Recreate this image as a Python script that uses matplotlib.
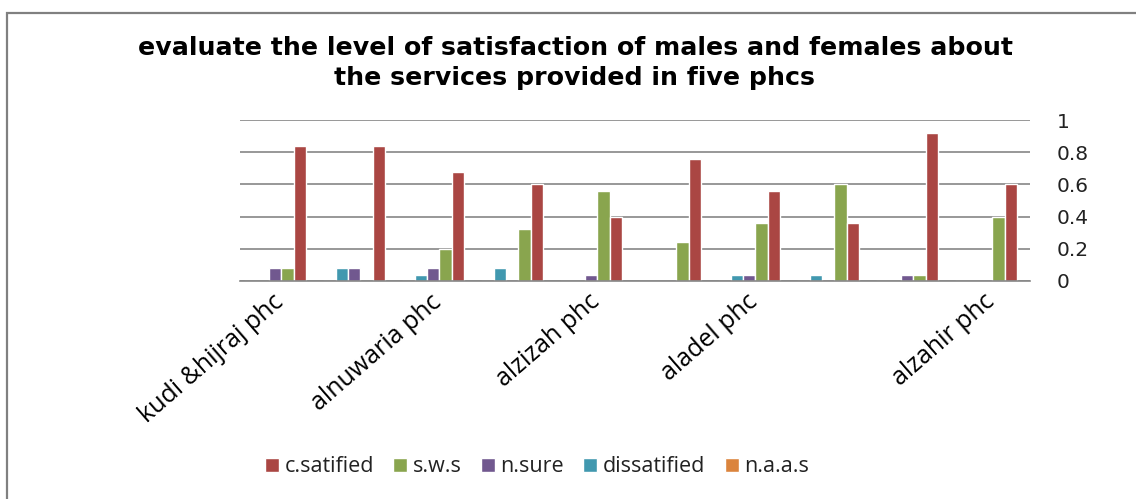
import matplotlib
matplotlib.use('Agg')
import matplotlib.pyplot as plt
import numpy as np
from matplotlib.patches import Rectangle
from matplotlib.transforms import ScaledTranslation

# ---- data ----
categories = ["kudi &hijraj phc", "", "alnuwaria phc", "", "alzizah phc", "",
              "aladel phc", "", "", "alzahir phc"]
series_names = ["n.a.a.s", "dissatified", "n.sure", "s.w.s", "c.satified"]
naas = [0, 0, 0, 0, 0, 0, 0, 0, 0, 0]
dissatified = [0, 0.08, 0.04, 0.08, 0, 0, 0.04, 0.04, 0, 0]
n_sure = [0.08, 0.08, 0.08, 0, 0.04, 0, 0.04, 0, 0.04, 0]
sws = [0.08, 0, 0.2, 0.32, 0.56, 0.24, 0.36, 0.6, 0.04, 0.4]
c_satified = [0.84, 0.84, 0.68, 0.6, 0.4, 0.76, 0.56, 0.36, 0.92, 0.6]
y_ticks = [0, 0.2, 0.4, 0.6, 0.8, 1]
y_tick_labels = ["0", "0.2", "0.4", "0.6", "0.8", "1"]
title = ("evaluate the level of satisfaction of males and females about\n"
         "the services provided in five phcs")

series_values = [naas, dissatified, n_sure, sws, c_satified]
colors = ["#DB843D", "#4198AF", "#71588F", "#89A54E", "#AA4643"]
legend_order = ["c.satified", "s.w.s", "n.sure", "dissatified", "n.a.a.s"]

plt.rcParams['font.family'] = ['Open Sans', 'DejaVu Sans']

W, H = 1136, 499
fig = plt.figure(figsize=(W / 100, H / 100), dpi=100)
fig.patch.set_facecolor('white')

ax = fig.add_axes([240 / W, 1 - 281 / H, (1030 - 240) / W, (281 - 120) / H])
x = np.arange(len(categories))
bw = 0.156
handles = {}
for i, (name, vals, col) in enumerate(zip(series_names, series_values, colors)):
    off = (i - 2.35) * bw
    b = ax.bar(x + off, vals, width=bw, color=col, edgecolor='white',
               linewidth=1.0, zorder=3, label=name)
    handles[name] = b

ax.set_xlim(-0.5, len(categories) - 0.5)
ax.set_ylim(0, 1)
for s in ['top', 'left', 'right']:
    ax.spines[s].set_visible(False)
ax.spines['bottom'].set_color('#868686')
ax.spines['bottom'].set_linewidth(1.2)
ax.spines['bottom'].set_zorder(4)

ax.set_yticks(y_ticks)
ax.set_yticklabels(y_tick_labels, family=['DejaVu Sans'])
ax.yaxis.tick_right()
ax.tick_params(axis='y', length=0, pad=19, labelsize=14.5, colors='#222222')
ax.grid(axis='y', color='#868686', linewidth=1.2, zorder=0)
ax.set_axisbelow(True)

ax.set_xticks(x)
ax.set_xticklabels(categories, rotation=41, ha='right', rotation_mode='anchor',
                   fontsize=18)
ax.tick_params(axis='x', length=0, pad=6)
for lab in ax.get_xticklabels():
    lab.set_transform(lab.get_transform() + ScaledTranslation(-7 / 100, 0, fig.dpi_scale_trans))

fig.text(575 / W, 1 - 63 / H, title, ha='center', va='center', fontsize=18.2,
         fontweight='bold', linespacing=1.3, multialignment='center',
         family=['DejaVu Sans'])

leg = fig.legend([handles[n] for n in legend_order], legend_order,
                 loc='center', bbox_to_anchor=(537 / W, 1 - 467 / H), ncol=5,
                 frameon=False, fontsize=15.5, handlelength=0.65,
                 handleheight=0.65, handletextpad=0.25, columnspacing=0.9,
                 borderaxespad=0, borderpad=0)
for t in leg.get_texts():
    t.set_color('#222222')

fig.add_artist(Rectangle((7 / W, -0.2), 1.3, 1.2 - 13 / H, transform=fig.transFigure,
                         fill=False, edgecolor='#808080', linewidth=1.6, clip_on=False))

fig.savefig('out.png', dpi=100)
